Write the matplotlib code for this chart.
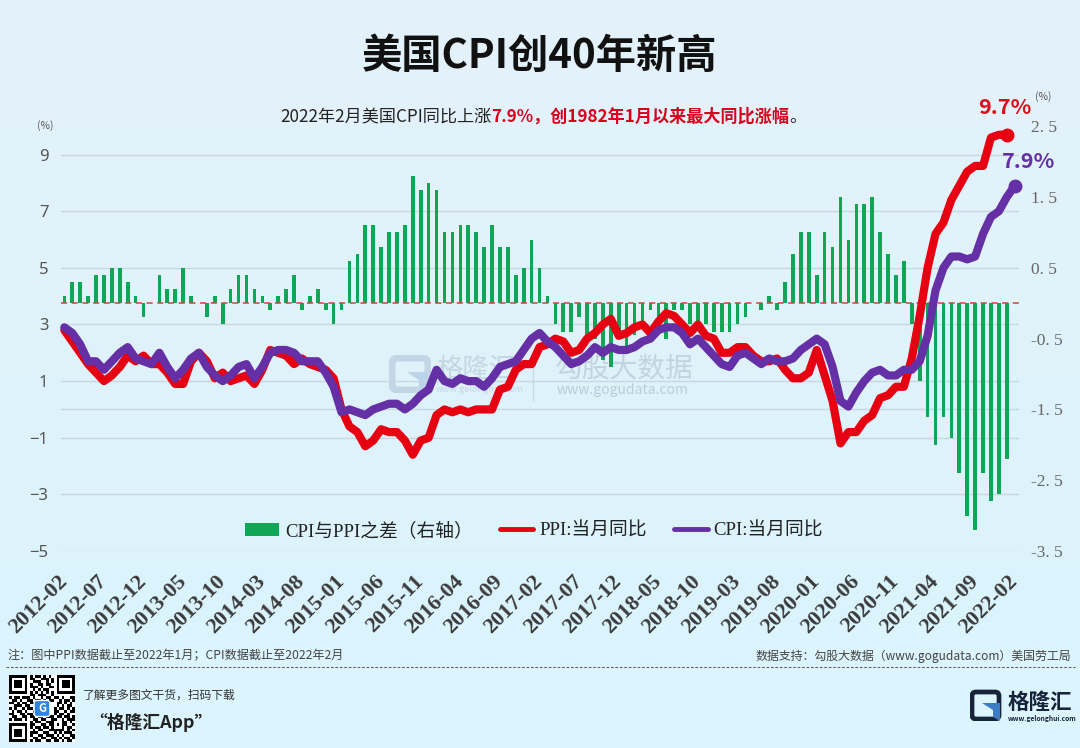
#!/usr/bin/env python3
import numpy as np
import matplotlib
matplotlib.use("Agg")
import matplotlib.pyplot as plt
from matplotlib.lines import Line2D
from matplotlib.patches import Patch, FancyBboxPatch, Polygon

plt.rcParams['font.family'] = ['Noto Sans CJK SC', 'DejaVu Sans']

# --- Data ---
tick_labels = [
    "2012-02", "2012-07", "2012-12", "2013-05", "2013-10", "2014-03", "2014-08",
    "2015-01", "2015-06", "2015-11", "2016-04", "2016-09", "2017-02", "2017-07",
    "2017-12", "2018-05", "2018-10", "2019-03", "2019-08", "2020-01", "2020-06",
    "2020-11", "2021-04", "2021-09", "2022-02",
]
cpi = [
    2.9, 2.7, 2.3, 1.7, 1.7, 1.4, 1.7, 2.0, 2.2, 1.8, 1.7, 1.6,
    2.0, 1.5, 1.1, 1.4, 1.8, 2.0, 1.5, 1.2, 1.0, 1.2, 1.5, 1.6,
    1.1, 1.5, 2.0, 2.1, 2.1, 2.0, 1.7, 1.7, 1.7, 1.3, 0.8, -0.1,
    0.0, -0.1, -0.2, 0.0, 0.1, 0.2, 0.2, 0.0, 0.2, 0.5, 0.7, 1.4,
    1.0, 0.9, 1.1, 1.0, 1.0, 0.8, 1.1, 1.5, 1.6, 1.7, 2.1, 2.5,
    2.7, 2.4, 2.2, 1.9, 1.6, 1.7, 1.9, 2.2, 2.0, 2.2, 2.1, 2.1,
    2.2, 2.4, 2.5, 2.8, 2.9, 2.9, 2.7, 2.3, 2.5, 2.2, 1.9, 1.6,
    1.5, 1.9, 2.0, 1.8, 1.6, 1.8, 1.7, 1.7, 1.8, 2.1, 2.3, 2.5,
    2.3, 1.5, 0.3, 0.1, 0.6, 1.0, 1.3, 1.4, 1.2, 1.2, 1.4, 1.4,
    1.7, 2.6, 4.2, 5.0, 5.4, 5.4, 5.3, 5.4, 6.2, 6.8, 7.0, 7.5,
    7.9,
]
ppi = [
    2.8, 2.4, 2.0, 1.6, 1.3, 1.0, 1.2, 1.5, 1.9, 1.7,
    1.9, 1.6, 1.6, 1.3, 0.9, 0.9, 1.7, 2.0, 1.7, 1.1,
    1.3, 1.0, 1.1, 1.2, 0.9, 1.4, 2.1, 2.0, 1.9, 1.6,
    1.8, 1.6, 1.5, 1.4, 1.1, 0.0, -0.6, -0.8, -1.3, -1.1,
    -0.7, -0.8, -0.8, -1.1, -1.6, -1.1, -1.0, -0.2, 0.0, -0.1,
    0.0, -0.1, 0.0, 0.0, 0.0, 0.7, 0.8, 1.4, 1.6, 1.6,
    2.2, 2.3, 2.5, 2.4, 2.0, 2.1, 2.5, 2.7, 3.0, 3.2,
    2.6, 2.7, 2.9, 3.0, 2.7, 3.1, 3.4, 3.3, 3.0, 2.7,
    3.0, 2.6, 2.5, 2.0, 2.0, 2.2, 2.2, 1.9, 1.7, 1.7,
    1.8, 1.4, 1.1, 1.1, 1.3, 2.1, 1.2, 0.3, -1.2, -0.8,
    -0.8, -0.4, -0.2, 0.4, 0.5, 0.8, 0.8, 1.8, 3.3, 5.0,
    6.2, 6.6, 7.4, 7.9, 8.4, 8.6, 8.6, 9.6, 9.7, 9.7,
]
diff = [
    0.1, 0.3, 0.3, 0.1, 0.4, 0.4, 0.5, 0.5, 0.3, 0.1,
    -0.2, 0.0, 0.4, 0.2, 0.2, 0.5, 0.1, 0.0, -0.2, 0.1,
    -0.3, 0.2, 0.4, 0.4, 0.2, 0.1, -0.1, 0.1, 0.2, 0.4,
    -0.1, 0.1, 0.2, -0.1, -0.3, -0.1, 0.6, 0.7, 1.1, 1.1,
    0.8, 1.0, 1.0, 1.1, 1.8, 1.6, 1.7, 1.6, 1.0, 1.0,
    1.1, 1.1, 1.0, 0.8, 1.1, 0.8, 0.8, 0.4, 0.5, 0.9,
    0.5, 0.1, -0.3, -0.4, -0.4, -0.2, -0.5, -0.5, -0.8, -0.9,
    -0.5, -0.6, -0.45, -0.25, -0.1, -0.2, -0.5, -0.1, -0.1, -0.3,
    -0.3, -0.3, -0.4, -0.4, -0.4, -0.3, -0.2, 0.0, -0.1, 0.1,
    -0.1, 0.3, 0.7, 1.0, 1.0, 0.4, 1.0, 0.8, 1.5, 0.9,
    1.4, 1.4, 1.5, 1.0, 0.7, 0.4, 0.6, -0.3, -1.1, -1.6,
    -2.0, -1.6, -1.9, -2.4, -3.0, -3.2, -2.4, -2.8, -2.7, -2.2,
]
left_ticks = [-5, -3, -1, 1, 3, 5, 7, 9]
right_ticks = [-3.5, -2.5, -1.5, -0.5, 0.5, 1.5, 2.5]

# rough hand typed qr pattern for the footer
qr_rows = [
    "1111111010110101001111111",
    "1000001011001110101000001",
    "1011101001110010101011101",
    "1011101010011011001011101",
    "1011101011101001101011101",
    "1000001001010110001000001",
    "1111111010101010101111111",
    "0000000011011100100000000",
    "1011011101001011011010011",
    "0110100110110101100101101",
    "1101011011000000001101010",
    "0011101100000000001010110",
    "1010010110000000010110101",
    "0101101001000000011001011",
    "1100110110000000010110100",
    "0110011011011011101101101",
    "1011101001101100110010111",
    "0000000010110011100011010",
    "1111111011001101101011001",
    "1000001010110110100010110",
    "1011101001011001111110101",
    "1011101011100110010101110",
    "1011101010011011101010011",
    "1000001001101100110101101",
    "1111111010110011011010110",
]

W, H = 1080, 748
RED = "#e60012"
PURPLE = "#6530a6"
GREEN = "#0fa755"
GRID = "#c9d8df"
AX_L, AX_R, AX_T, AX_B = 61, 1019, 125.7, 551


def fx(x):
    return x / W


def fy(y):
    return 1 - y / H


def ftext(x, y, s, **kw):
    kw.setdefault("ha", "left")
    kw.setdefault("va", "center")
    return fig.text(fx(x), fy(y), s, **kw)


fig = plt.figure(figsize=(W / 100, H / 100), dpi=100)

# background gradient
bg = fig.add_axes([0, 0, 1, 1], zorder=-5)
bg.imshow(np.array([[[227, 242, 250]], [[223, 242, 251]], [[219, 244, 253]]], dtype=np.uint8),
          aspect="auto", interpolation="bilinear", extent=[0, 1, 0, 1])
bg.axis("off")

# watermark, sits under the chart
wm = fig.add_axes([fx(389), fy(393), 42 / W, 38 / H], zorder=-4)
wm.set_xlim(0, 42)
wm.set_ylim(0, 38)
wm.axis("off")
wm.add_patch(FancyBboxPatch((3, 3), 36, 32, boxstyle="round,pad=0,rounding_size=6",
                            fc="none", ec="#c2d6e6", lw=5))
wm.add_patch(Polygon([[18, 21], [38, 21], [38, 4], [30, 4], [30, 13]], fc="#bcd4ea", ec="none"))
for x, y, s, size, col in [
    (436, 369, "格隆汇", 19, "#c5d6e2"),
    (436, 389, "www.gelonghui.com", 6.5, "#c5d6e2"),
    (555, 369, "勾股大数据", 20, "#c3d3df"),
    (557, 390, "www.gogudata.com", 10, "#b9ccd9"),
]:
    ftext(x, y, s, fontsize=size, color=col, zorder=-3)
fig.add_artist(Line2D([fx(533), fx(533)], [fy(353), fy(400)], color="#c9dae4", lw=1, zorder=-3))

rect = [fx(AX_L), fy(AX_B), (AX_R - AX_L) / W, (AX_B - AX_T) / H]
ax = fig.add_axes(rect, zorder=1)
ax.patch.set_visible(False)
x_cpi = np.arange(len(cpi))
x_ppi = np.arange(len(ppi))
xlim = (-0.42, 120.54)
ax.set_xlim(*xlim)
ax.set_ylim(-5, 10.02)
ax.set_yticks(left_ticks)
ax.set_yticklabels([str(v).replace("-", "\u2212") for v in left_ticks], fontsize=12,
                   color="#555555", family=["Noto Sans", "DejaVu Sans"])
ax.yaxis.grid(True, color=GRID, lw=1.0)
ax.axhline(0, color=GRID, lw=1.0)
ax.tick_params(axis="y", length=0, pad=9)
ax.tick_params(axis="x", length=0, pad=20)
ax.set_xticks(x_cpi[::5])
ax.set_xticklabels(tick_labels, rotation=45, ha="right", va="center", rotation_mode="anchor",
                   fontsize=15.8, fontweight="bold", color="#3a3a3a",
                   family=["Liberation Serif", "DejaVu Serif"])
for side in ax.spines:
    ax.spines[side].set_visible(False)

# bars on the right axis
ax2 = ax.twinx()
ax2.set_zorder(2)
ax2.patch.set_visible(False)
ax2.set_xlim(*xlim)
ax2.set_ylim(-3.5, 2.508)
ax2.bar(x_ppi, diff, width=0.46, color=GREEN)
ax2.axhline(0, color="#d8413f", lw=1.1, ls=(0, (4, 3)))
ax2.set_yticks(right_ticks)
ax2.set_yticklabels([f"{v:.1f}".replace(".", ". ") for v in right_ticks], fontsize=12.5,
                    color="#666666", family=["Liberation Serif", "DejaVu Serif"])
ax2.tick_params(axis="y", length=0, pad=8.5)
for side in ax2.spines:
    ax2.spines[side].set_visible(False)

# lines go on top of the bars
ax3 = ax.twinx()
ax3.set_zorder(3)
ax3.patch.set_visible(False)
ax3.set_xlim(*xlim)
ax3.set_ylim(-5, 10.02)
ax3.axis("off")
ax3.plot(x_ppi, ppi, color=RED, lw=5.9, solid_joinstyle="round", solid_capstyle="round", clip_on=False)
ax3.plot(x_cpi, cpi, color=PURPLE, lw=5.9, solid_joinstyle="round", solid_capstyle="round", clip_on=False)
ax3.plot(x_ppi[-1], ppi[-1], "o", color=RED, ms=9, clip_on=False)
ax3.plot(x_cpi[-1], cpi[-1], "o", color=PURPLE, ms=9, clip_on=False)

# title and subtitle
ftext(540, 56, "美国CPI创40年新高", ha="center", fontsize=29, fontweight="bold", color="#111111")
sub_x = 280
sub_parts = [("2022年2月美国CPI同比上涨", "#222222", "normal"),
             ("7.9%，创1982年1月以来最大同比涨幅", "#d9001b", "bold"),
             ("。", "#222222", "normal")]
renderer = fig.canvas.get_renderer()
for s, col, weight in sub_parts:
    t = ftext(sub_x, 117, s, fontsize=12.3, color=col, fontweight=weight)
    sub_x = t.get_window_extent(renderer).x1

ftext(1005, 107, "9.7%", ha="center", fontsize=15.5, fontweight="bold", color="#d9101c")
ftext(1029, 161, "7.9%", ha="center", fontsize=15.5, fontweight="bold", color=PURPLE)
ftext(45, 126, "(%)", ha="center", fontsize=7.5, color="#555555")
ftext(1043, 97, "(%)", ha="center", fontsize=7.5, color="#555555")

# legend
handles = [
    Patch(facecolor=GREEN, label="CPI与PPI之差（右轴）"),
    Line2D([], [], color=RED, lw=3.5, solid_capstyle="round", label="PPI:当月同比"),
    Line2D([], [], color=PURPLE, lw=3.5, solid_capstyle="round", label="CPI:当月同比"),
]
ax3.legend(handles=handles, ncol=3, frameon=False, loc="center", bbox_to_anchor=(534 / W, fy(531)),
           bbox_transform=fig.transFigure, handlelength=1.8, handleheight=0.7, handletextpad=0.3,
           columnspacing=1.45, labelcolor="#222222",
           prop={"family": ["Liberation Serif", "Noto Sans CJK SC"], "size": 13.5})

# footer
ftext(8, 656, "注：图中PPI数据截止至2022年1月；CPI数据截止至2022年2月", fontsize=8.75, color="#444444")
ftext(1071, 656, "数据支持：勾股大数据（www.gogudata.com）美国劳工局", ha="right", fontsize=8.6, color="#444444")
fig.add_artist(Line2D([fx(6), fx(1075)], [fy(667), fy(667)], color="#666666", lw=0.8, ls=(0, (2.5, 1.5))))

qr = fig.add_axes([fx(9), fy(742), 66 / W, 67 / H], zorder=2)
qr.imshow([[1 - int(c) for c in row] for row in qr_rows], cmap="gray", vmin=0, vmax=1,
          aspect="auto", interpolation="nearest", extent=[0, 25, 0, 25])
qr.add_patch(FancyBboxPatch((9.5, 9.5), 6, 6, boxstyle="round,pad=0,rounding_size=1", fc="#2f86e0", ec="white", lw=1))
qr.text(12.5, 12.4, "G", color="white", fontsize=8, fontweight="bold", ha="center", va="center")
qr.axis("off")

ftext(83, 695, "了解更多图文干货，扫码下载", fontsize=8.5, color="#333333")
ftext(89, 722, "“格隆汇App”", fontsize=12.8, fontweight="bold", color="#222222")

logo = fig.add_axes([fx(970), fy(721), 32 / W, 32 / H], zorder=2)
logo.set_xlim(0, 32)
logo.set_ylim(0, 32)
logo.axis("off")
logo.add_patch(FancyBboxPatch((2, 2), 27, 27, boxstyle="round,pad=0,rounding_size=4", fc="none", ec="#17233a", lw=3.4))
logo.add_patch(Polygon([[12, 18], [30, 18], [30, 0], [23, 4], [23, 11]], fc="#3b7cc4", ec="none"))
ftext(1008, 702, "格隆汇", fontsize=15.5, fontweight="bold", color="#17233a")
ftext(1008, 718, "www.gelonghui.com", fontsize=4.8, fontweight="bold", color="#17233a")

fig.savefig("out.png", dpi=100, facecolor="#dff2fb")
